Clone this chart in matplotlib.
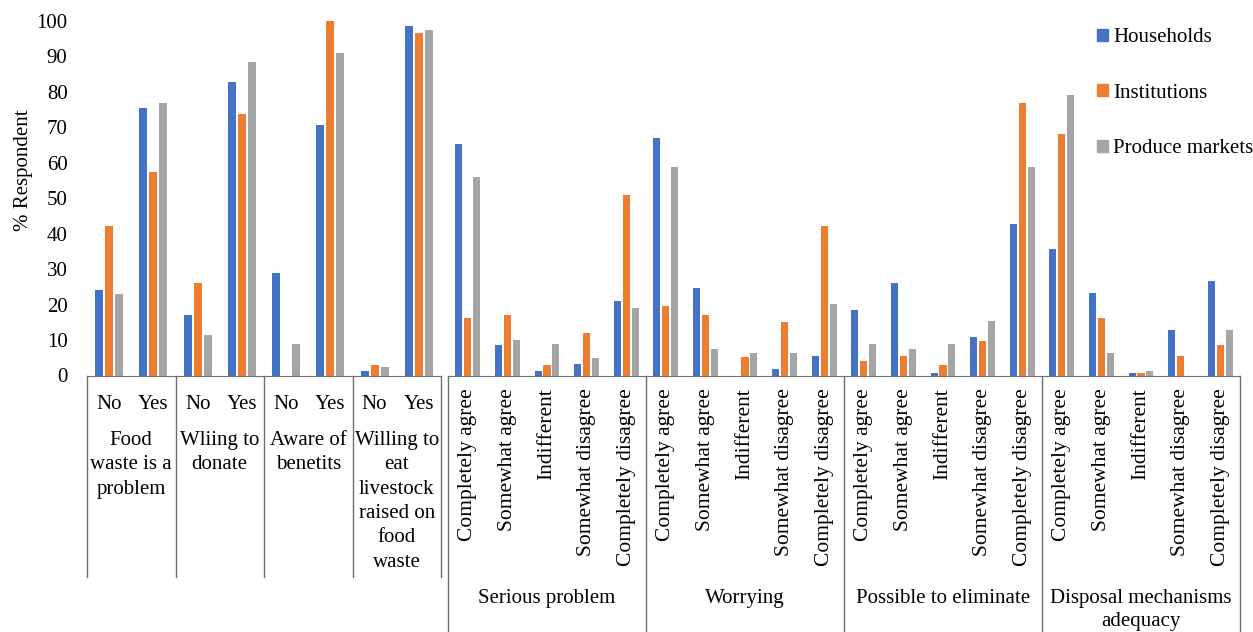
import numpy as np
import matplotlib
matplotlib.use("Agg")
import matplotlib.pyplot as plt
from matplotlib.patches import Patch

plt.rcParams['font.family'] = ['Liberation Serif', 'DejaVu Serif']

# yes/no questions
yn_labels = ["No", "Yes"] * 4
yn_groups = ["Food\nwaste is a\nproblem", "Wliing to\ndonate", "Aware of\nbenetits",
             "Willing to\neat\nlivestock\nraised on\nfood\nwaste"]
yn_house = [24.2, 75.5, 17.1, 82.7, 29.0, 70.7, 1.3, 98.5]
yn_inst = [42.2, 57.4, 26.0, 73.8, 0.0, 100.0, 3.1, 96.7]
yn_market = [23.0, 76.8, 11.5, 88.4, 8.8, 91.0, 2.5, 97.4]

# likert questions
lk_labels = ["Completely agree", "Somewhat agree", "Indifferent",
             "Somewhat disagree", "Completely disagree"] * 4
lk_groups = ["Serious problem", "Worrying", "Possible to eliminate",
             "Disposal mechanisms\nadequacy"]
lk_house = [65.2, 8.5, 1.3, 3.2, 20.9,
            67.1, 24.7, 0.0, 1.7, 5.6,
            18.6, 26.2, 0.8, 10.8, 42.8,
            35.7, 23.3, 0.8, 12.9, 26.6]
lk_inst = [16.2, 17.2, 3.1, 11.9, 50.8,
           19.5, 17.2, 5.3, 15.1, 42.1,
           4.2, 5.4, 3.1, 9.7, 76.8,
           68.2, 16.2, 0.8, 5.4, 8.6]
lk_market = [56.1, 10.1, 8.9, 5.0, 19.1,
             58.8, 7.5, 6.3, 6.3, 20.3,
             8.9, 7.5, 8.9, 15.3, 58.8,
             79.1, 6.3, 1.3, 0.0, 12.8]

series = ["Households", "Institutions", "Produce markets"]
colors = ["#4472C4", "#ED7D31", "#A5A5A5"]
line_col = "#6f6f6f"

W, H = 1253, 632
fig = plt.figure(figsize=(W / 100, H / 100), dpi=100)
y0, y100 = 375.5, 21.0
ax_b = (H - y0) / H
ax_h = (y0 - y100) / H
ax1 = fig.add_axes([87 / W, ax_b, 354 / W, ax_h])
ax2 = fig.add_axes([448 / W, ax_b, 792 / W, ax_h])

bw, off = 0.18, 0.225

def draw(ax, vals, n):
    x = np.arange(n)
    for i, v in enumerate(vals):
        ax.bar(x + (i - 1) * off, v, bw, color=colors[i], label=series[i])
    ax.set_xlim(-0.5, n - 0.5)
    ax.set_ylim(0, 100)
    for s in ["top", "right", "left"]:
        ax.spines[s].set_visible(False)
    ax.spines["bottom"].set_color(line_col)
    ax.tick_params(axis="x", length=0)
    ax.tick_params(axis="y", length=0)

draw(ax1, [yn_house, yn_inst, yn_market], 8)
draw(ax2, [lk_house, lk_inst, lk_market], 20)

ax1.set_yticks(range(0, 101, 10))
ax1.tick_params(axis="y", labelsize=15, pad=14)
ax1.set_ylabel("% Respondent", fontsize=15)
ax1.yaxis.set_label_coords(-0.153, 0.58)
ax2.set_yticks([])

ax1.set_xticks(range(8))
ax1.set_xticklabels(yn_labels, fontsize=15)
ax1.tick_params(axis="x", pad=14)
ax2.set_xticks(range(20))
ax2.set_xticklabels(lk_labels, fontsize=15.5, rotation=90, va="top", ha="center")
ax2.tick_params(axis="x", pad=9)

px = 1.0 / (y0 - y100)
# left boxes
tr1 = ax1.get_xaxis_transform()
for xb in [-0.5, 1.5, 3.5, 5.5, 7.5]:
    ax1.plot([xb, xb], [0, -(577 - y0) * px], color=line_col, lw=1,
             transform=tr1, clip_on=False)
for g, lab in enumerate(yn_groups):
    ax1.text(2 * g + 0.5, -(431 - y0) * px, lab, transform=tr1, ha="center",
             va="top", fontsize=15, linespacing=1.38)

# right boxes
tr2 = ax2.get_xaxis_transform()
for xb in [-0.5, 4.5, 9.5, 14.5, 19.5]:
    ax2.plot([xb, xb], [0, -(640 - y0) * px], color=line_col, lw=1,
             transform=tr2, clip_on=False)
for g, lab in enumerate(lk_groups):
    ax2.text(5 * g + 2, -(589 - y0) * px, lab, transform=tr2, ha="center",
             va="top", fontsize=15, linespacing=1.3)

handles = [Patch(color=c, label=s) for c, s in zip(colors, series)]
fig.legend(handles=handles, loc="upper left", bbox_to_anchor=(1089 / W, 1 - 20 / H),
           frameon=False, fontsize=15, handlelength=0.5, handleheight=0.5,
           handletextpad=0.25, labelspacing=1.75, borderaxespad=0)

fig.savefig("out.png", dpi=100)
